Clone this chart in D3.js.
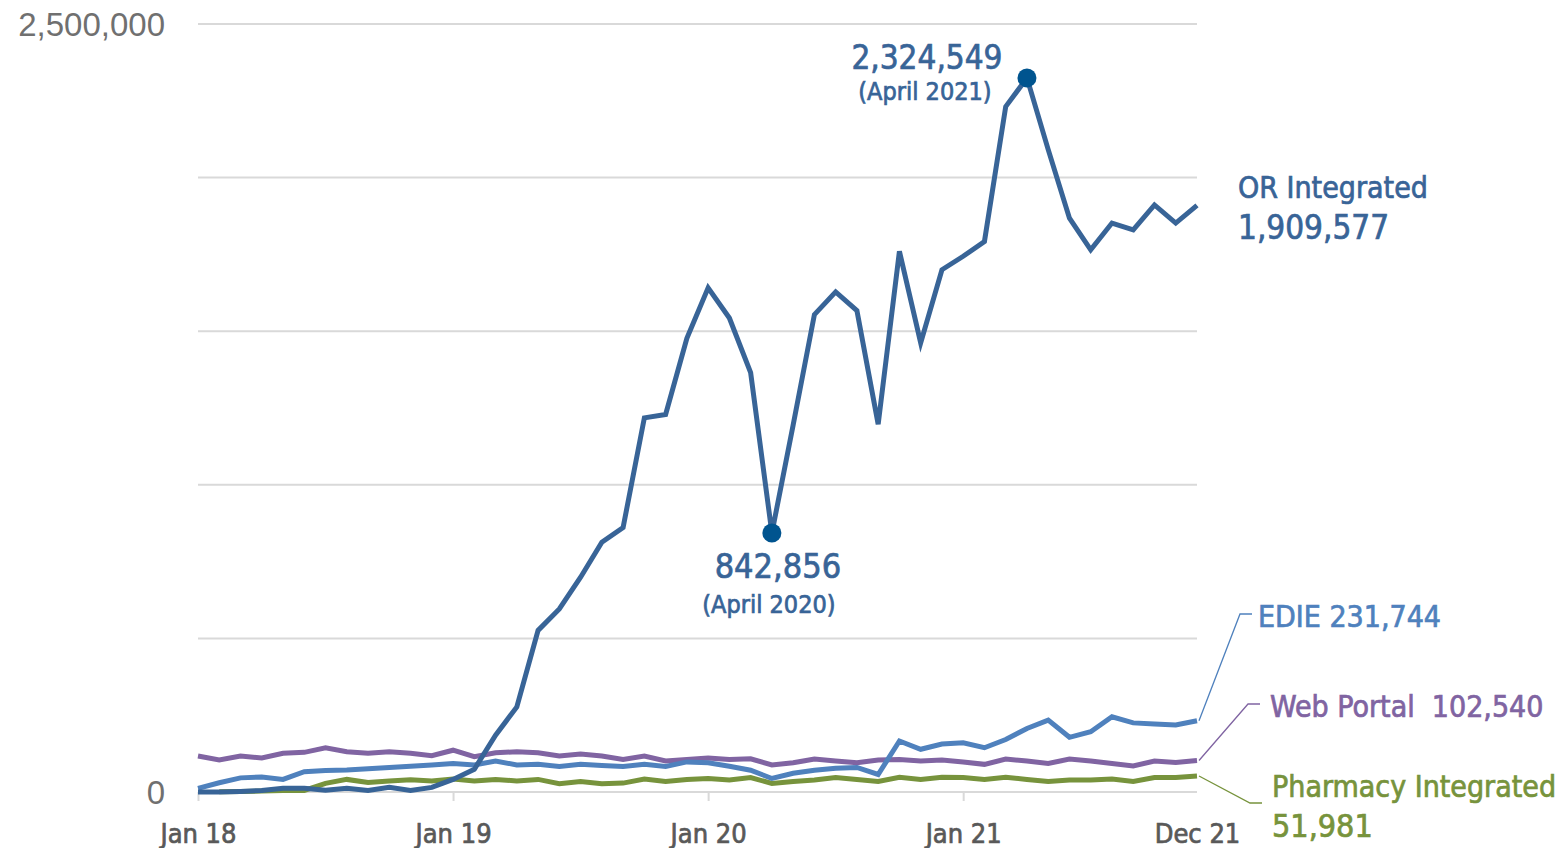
<!DOCTYPE html>
<html>
<head>
<meta charset="utf-8">
<script src="https://cdn.jsdelivr.net/npm/d3@7"></script>
<style>
  body { margin: 0; background: #fff; }
  svg text { font-family: "DejaVu Sans Condensed", "DejaVu Sans", sans-serif; }
</style>
</head>
<body>
<svg id="Vis" width="1560" height="848"></svg>
<script>
/*
* DATA
*/

// months Jan 18 .. Dec 21 (48 points)
const tickIndex = [0, 12, 24, 36, 47];
const tickLabels = ["Jan 18", "Jan 19", "Jan 20", "Jan 21", "Dec 21"];

const orIntegrated = [0, 0, 2000, 5000, 12000, 12000, 6000, 12000, 5000, 15000, 5000, 15000,
  41000, 74000, 185000, 277000, 526000, 596000, 699000, 813000, 861000, 1218000, 1229000, 1477000,
  1641000, 1543000, 1365000, 842856, 1195000, 1554000, 1628000, 1567000, 1197000, 1760000, 1462000, 1700000,
  1744000, 1792000, 2231000, 2324549, 2091000, 1868000, 1765000, 1852000, 1830000, 1911000, 1852000, 1909577];

const edie = [12000, 30000, 46000, 49000, 41000, 66000, 70000, 72000, 76000, 80000, 84000, 88000,
  93000, 88000, 101000, 88000, 90000, 83000, 90000, 86000, 83000, 90000, 83000, 98000,
  95000, 84000, 71000, 44000, 61000, 71000, 77000, 80000, 57000, 166000, 139000, 156000,
  160000, 144000, 171000, 207000, 234000, 178000, 196000, 245000, 225000, 221000, 218000, 231744];

const webPortal = [117000, 104000, 117000, 111000, 126000, 129000, 144000, 131000, 126000, 131000, 126000, 118000,
  136000, 115000, 128000, 131000, 128000, 117000, 124000, 117000, 106000, 117000, 101000, 106000,
  111000, 106000, 108000, 88000, 95000, 107000, 101000, 95000, 104000, 106000, 101000, 104000,
  98000, 90000, 107000, 101000, 93000, 107000, 101000, 93000, 85000, 101000, 96000, 102540];

const pharmacy = [null, 1000, 2000, 3000, 5000, 5000, 28000, 41000, 31000, 36000, 40000, 36000,
  42000, 36000, 41000, 36000, 41000, 27000, 34000, 27000, 29000, 42000, 34000, 41000,
  44000, 39000, 47000, 28000, 34000, 39000, 47000, 41000, 34000, 48000, 41000, 48000,
  47000, 41000, 48000, 41000, 34000, 39000, 39000, 42000, 34000, 47000, 47000, 51981];

const yTicks = [0, 500000, 1000000, 1500000, 2000000, 2500000];
const yLabelTicks = [0, 2500000];

// callouts on the OR Integrated line
const highlights = [
  {i: 27, value: "842,856", sub: "(April 2020)"},
  {i: 39, value: "2,324,549", sub: "(April 2021)"}
];

/*
* SETUP
*/

const svg = d3.select("svg#Vis");

const x = d3.scaleLinear().domain([0, 47]).range([198, 1197]);
const y = d3.scaleLinear().domain([0, 2500000]).range([792, 24]);

const colors = {
  or: "#386497",
  edie: "#4F81BD",
  web: "#8064A2",
  pharm: "#77933C",
  dot: "#00548F",
  grid: "#D9D9D9",
  axisText: "#595959",
  yText: "#707070"
};

/* helper: text with a thin outline so it reads a bit heavier */
function label(xp, yp, txt, color, size, anchor) {
  return svg.append("text")
    .attr("x", xp).attr("y", yp)
    .attr("text-anchor", anchor || "start")
    .attr("fill", color)
    .attr("stroke", color)
    .attr("stroke-width", 0.7)
    .style("font-size", size + "px")
    .style("white-space", "pre")
    .text(txt);
}

/* Gridlines */
svg.append("g").selectAll("line")
  .data(yTicks)
  .join("line")
    .attr("x1", x(0))
    .attr("x2", x(47))
    .attr("y1", d => y(d))
    .attr("y2", d => y(d))
    .attr("stroke", colors.grid)
    .attr("stroke-width", 2);

/* Y labels */
svg.append("g").selectAll("text")
  .data(yLabelTicks)
  .join("text")
    .attr("x", 165)
    .attr("y", d => y(d) + 12)
    .attr("text-anchor", "end")
    .attr("fill", colors.yText)
    .style("font-family", "'Liberation Sans', Arial, sans-serif")
    .style("font-size", "33px")
    .text(d3.format(","));

/* X axis */
const xAxis = d3.axisBottom(x)
  .tickValues(tickIndex)
  .tickSize(9)
  .tickFormat((d, k) => tickLabels[k]);

const gx = svg.append("g")
  .attr("transform", "translate(0," + y(0) + ")")
  .call(xAxis);

gx.select(".domain").remove();
gx.selectAll(".tick line")
  .attr("stroke", colors.grid)
  .attr("stroke-width", 2)
  .attr("opacity", d => d === 47 ? 0 : 1);
gx.selectAll(".tick text")
  .attr("y", 51)
  .attr("dy", 0)
  .attr("fill", colors.axisText)
  .attr("stroke", colors.axisText)
  .attr("stroke-width", 0.7)
  .style("font-family", "'DejaVu Sans Condensed', sans-serif")
  .style("font-size", "27px");

/* Lines */
const line = d3.line()
  .defined(d => d !== null)
  .x((d, i) => x(i))
  .y(d => y(d));

const series = [
  {data: webPortal, color: colors.web},
  {data: pharmacy, color: colors.pharm},
  {data: edie, color: colors.edie},
  {data: orIntegrated, color: colors.or}
];

svg.append("g").selectAll("path")
  .data(series)
  .join("path")
    .attr("d", d => line(d.data))
    .attr("fill", "none")
    .attr("stroke", d => d.color)
    .attr("stroke-width", 5)
    .attr("stroke-linejoin", "miter");

/* Highlight dots */
svg.append("g").selectAll("circle")
  .data(highlights)
  .join("circle")
    .attr("cx", d => x(d.i))
    .attr("cy", d => y(orIntegrated[d.i]))
    .attr("r", 9.5)
    .attr("fill", colors.dot);

/* Callout text */
const low = highlights[0], high = highlights[1];

label(x(low.i) + 6, 578, low.value, colors.or, 34, "middle");
label(x(low.i) - 3, 613, low.sub, colors.or, 25, "middle");
label(x(high.i) - 100, 69, high.value, colors.or, 33, "middle");
label(x(high.i) - 102, 100, high.sub, colors.or, 25, "middle");

/* Series labels */
const fmt = d3.format(",");
const last = 47;

label(1238, 198, "OR Integrated", colors.or, 30);
label(1238, 239, fmt(orIntegrated[last]), colors.or, 33);

const sideLabels = [
  {text: "EDIE " + fmt(edie[last]), value: edie[last], color: colors.edie, bx: 1240, by: 614, tx: 1258, ty: 627},
  {text: "Web Portal  " + fmt(webPortal[last]), value: webPortal[last], color: colors.web, bx: 1248, by: 704, tx: 1270, ty: 717},
  {text: "Pharmacy Integrated", value: pharmacy[last], color: colors.pharm, bx: 1250, by: 803, tx: 1272, ty: 797}
];

sideLabels.forEach(function(s) {
  svg.append("polyline")
    .attr("points", [[x(last) + 2, y(s.value)], [s.bx, s.by], [s.bx + 12, s.by]].join(" "))
    .attr("fill", "none")
    .attr("stroke", s.color)
    .attr("stroke-width", 1.3);
  label(s.tx, s.ty, s.text, s.color, 30);
});

label(1272, 837, fmt(pharmacy[last]), colors.pharm, 32);
</script>
</body>
</html>
